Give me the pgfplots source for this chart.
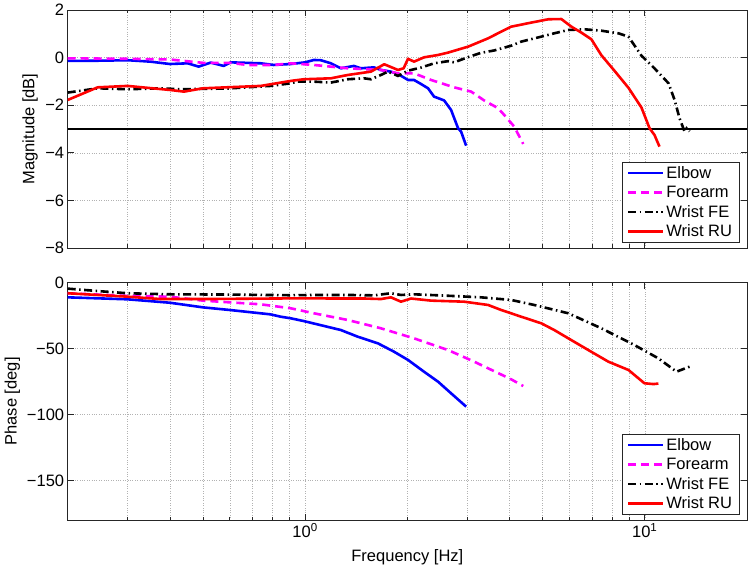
\documentclass[border=0pt]{standalone}
\usepackage{fontspec}
\setmainfont{Liberation Sans}
\usepackage{pgfplots}
\pgfplotsset{compat=1.18}
\definecolor{axgray}{gray}{0.15}
\definecolor{mag}{rgb}{1,0,1}
\newcommand{\fs}{\fontsize{16.5}{19}\selectfont}
\begin{document}
\begin{tikzpicture}[font=\fs]
\useasboundingbox (0,0) rectangle (750pt,571pt);
\begin{axis}[
    xmode=log, xmin=0.2, xmax=20,
    scale only axis, width=679.3pt, height=238pt,
    anchor=south west, at={(67.7pt,323pt)},
    xtick={1,10},
    minor xtick={0.3,0.4,0.5,0.6,0.7,0.8,0.9,2,3,4,5,6,7,8,9},
    xmajorgrids, xminorgrids, ymajorgrids,
    major grid style={dotted, gray!60, line width=0.5pt},
    minor grid style={dotted, gray!60, line width=0.5pt},
    axis line style={axgray, line width=0.6pt},
    tick style={axgray, line width=0.6pt},
    major tick length=6pt, minor tick length=3.5pt,
    tick label style={font=\fs, text=black},
    label style={font=\fs},
    legend cell align=left,
    legend style={font=\fs, draw=axgray, line width=0.5pt, fill=white,
      at={(axis description cs:0.9887,0.0223)}, anchor=south east,
      inner xsep=5pt, inner ysep=2pt, row sep=2.3pt},
    legend image code/.code={\draw[#1] (0pt,0pt) -- (35pt,0pt);},
  ymin=-8, ymax=2, ytick={-8,-6,-4,-2,0,2},
  yticklabels={−8,−6,−4,−2,0,2},
  xticklabels={},
  ylabel={Magnitude [dB]},
  ylabel style={at={(axis description cs:-0.0555,0.5)}, anchor=center},
]
\addplot[black, line width=2.2pt, forget plot] coordinates {(0.2,-3) (20,-3)};
\addplot[blue, line width=2.6pt, line join=round] coordinates {(0.2,-0.14)(0.25,-0.13)(0.3,-0.11)(0.35,-0.17)(0.4,-0.27)(0.451,-0.24)(0.486,-0.38)(0.527,-0.21)(0.576,-0.35)(0.604,-0.2)(0.74,-0.24)(0.808,-0.31)(0.907,-0.27)(1.0,-0.2)(1.061,-0.1)(1.112,-0.11)(1.191,-0.24)(1.274,-0.45)(1.392,-0.35)(1.46,-0.45)(1.595,-0.41)(1.672,-0.52)(1.789,-0.59)(1.877,-0.69)(2.009,-0.94)(2.092,-0.94)(2.194,-1.11)(2.301,-1.29)(2.397,-1.64)(2.513,-1.75)(2.566,-1.8)(2.69,-2.2)(2.821,-2.97)(2.879,-3.11)(2.979,-3.7)};
\addlegendentry{Elbow}
\addplot[mag, line width=2.6pt, dash pattern=on 8pt off 5pt] coordinates {(0.2,-0.03)(0.3,-0.05)(0.4,-0.08)(0.5,-0.22)(0.6,-0.22)(0.678,-0.31)(0.808,-0.31)(0.907,-0.24)(1.061,-0.31)(1.336,-0.45)(1.672,-0.52)(1.877,-0.66)(2.092,-0.66)(2.349,-0.94)(2.746,-1.25)(3.083,-1.43)(3.366,-1.8)(3.702,-2.13)(3.856,-2.41)(4.127,-2.9)(4.387,-3.63)};
\addlegendentry{Forearm}
\addplot[black, line width=2.6pt, dash pattern=on 8pt off 3.5pt on 1.5pt off 3.5pt] coordinates {(0.2,-1.47)(0.245,-1.29)(0.3,-1.33)(0.375,-1.29)(0.43,-1.33)(0.59,-1.3)(0.792,-1.19)(0.907,-1.08)(0.952,-1.01)(1.061,-1.01)(1.191,-1.05)(1.336,-0.91)(1.49,-0.87)(1.562,-0.91)(1.672,-0.73)(1.754,-0.59)(1.877,-0.77)(2.009,-0.55)(2.194,-0.42)(2.397,-0.24)(2.636,-0.15)(2.746,-0.2)(3.02,0.02)(3.298,0.2)(3.603,0.3)(4.045,0.5)(4.328,0.67)(4.959,0.88)(5.414,1.02)(5.956,1.16)(6.638,1.19)(7.452,1.13)(8.365,1.02)(8.953,0.88)(9.78,0.08)(10.68,-0.45)(11.75,-1.08)(12.24,-1.78)(12.66,-2.55)(13.1,-3.11)(13.28,-2.97)(13.55,-3.1)};
\addlegendentry{Wrist FE}
\addplot[red, line width=2.6pt, line join=round] coordinates {(0.2,-1.78)(0.245,-1.25)(0.3,-1.19)(0.4,-1.36)(0.44,-1.43)(0.5,-1.29)(0.74,-1.19)(0.907,-0.98)(0.991,-0.91)(1.191,-0.87)(1.336,-0.73)(1.562,-0.59)(1.71,-0.28)(1.877,-0.52)(1.95,-0.45)(2.009,-0.05)(2.092,-0.17)(2.239,0.01)(2.463,0.11)(2.636,0.21)(3.02,0.46)(3.459,0.81)(3.778,1.09)(4.045,1.3)(4.633,1.47)(5.2,1.61)(5.68,1.62)(6.08,1.3)(6.505,1.05)(6.963,0.77)(7.452,0.1)(8.14,-0.55)(8.953,-1.27)(9.78,-2.1)(10.33,-2.97)(10.68,-3.25)(11.05,-3.74)};
\addlegendentry{Wrist RU}
\end{axis}

\begin{axis}[
    xmode=log, xmin=0.2, xmax=20,
    scale only axis, width=679.3pt, height=237.3pt,
    anchor=south west, at={(67.7pt,51pt)},
    xtick={1,10},
    minor xtick={0.3,0.4,0.5,0.6,0.7,0.8,0.9,2,3,4,5,6,7,8,9},
    xmajorgrids, xminorgrids, ymajorgrids,
    major grid style={dotted, gray!60, line width=0.5pt},
    minor grid style={dotted, gray!60, line width=0.5pt},
    axis line style={axgray, line width=0.6pt},
    tick style={axgray, line width=0.6pt},
    major tick length=6pt, minor tick length=3.5pt,
    tick label style={font=\fs, text=black},
    label style={font=\fs},
    legend cell align=left,
    legend style={font=\fs, draw=axgray, line width=0.5pt, fill=white,
      at={(axis description cs:0.9887,0.0223)}, anchor=south east,
      inner xsep=5pt, inner ysep=2pt, row sep=2.3pt},
    legend image code/.code={\draw[#1] (0pt,0pt) -- (35pt,0pt);},
  ymin=-180, ymax=0, ytick={-150,-100,-50,0},
  yticklabels={−150,−100,−50,0},
  xticklabels={10\textsuperscript{0},10\textsuperscript{1}},
  xlabel={Frequency [Hz]},
  xlabel style={at={(axis description cs:0.5,-0.155)}, anchor=center},
  ylabel={Phase [deg]},
  ylabel style={at={(axis description cs:-0.0813,0.5)}, anchor=center},
]
\addplot[blue, line width=2.6pt, line join=round] coordinates {(0.2,-11.1)(0.3,-12.6)(0.4,-15.2)(0.5,-18.7)(0.6,-20.7)(0.79,-24)(0.848,-25.8)(0.907,-27)(0.991,-29.1)(1.274,-35.9)(1.43,-41)(1.638,-46)(1.826,-52.3)(2.009,-58.6)(2.239,-67.5)(2.463,-75.1)(2.69,-83.9)(2.979,-94)};
\addlegendentry{Elbow}
\addplot[mag, line width=2.6pt, dash pattern=on 8pt off 5pt] coordinates {(0.2,-8)(0.3,-10)(0.4,-10.6)(0.5,-13.6)(0.6,-14.9)(0.74,-16.4)(0.907,-19.4)(1.061,-23.2)(1.336,-28.3)(1.672,-34.6)(2.092,-42.2)(2.636,-51.1)(3.146,-59.9)(4.045,-73.3)(4.387,-78.4)};
\addlegendentry{Forearm}
\addplot[black, line width=2.6pt, dash pattern=on 8pt off 3.5pt on 1.5pt off 3.5pt] coordinates {(0.2,-4.5)(0.25,-6.5)(0.3,-8)(0.4,-8.8)(0.6,-9)(0.9,-9.5)(1.061,-9.3)(1.336,-9.3)(1.595,-9.6)(1.789,-8)(1.916,-9.3)(2.092,-8.8)(2.636,-9.9)(3.298,-11.1)(4.045,-13.1)(4.727,-16.9)(5.956,-23.2)(7.452,-34.6)(9.325,-47.3)(10.97,-57.4)(12.4,-67.5)(13.55,-63.7)};
\addlegendentry{Wrist FE}
\addplot[red, line width=2.6pt, line join=round] coordinates {(0.2,-8)(0.3,-10.6)(0.375,-12.4)(0.5,-12.4)(0.907,-11.9)(1.5,-12)(1.672,-12.4)(1.789,-11.1)(1.916,-14.4)(2.05,-12)(2.349,-13.6)(2.939,-14.4)(3.459,-16.9)(3.778,-20.7)(4.328,-25.8)(4.959,-30.8)(5.414,-35.9)(5.956,-42.2)(6.823,-51.1)(7.814,-59.9)(8.953,-66.2)(9.98,-76.3)(10.61,-76.9)(10.97,-76.5)};
\addlegendentry{Wrist RU}
\end{axis}
\end{tikzpicture}
\end{document}
